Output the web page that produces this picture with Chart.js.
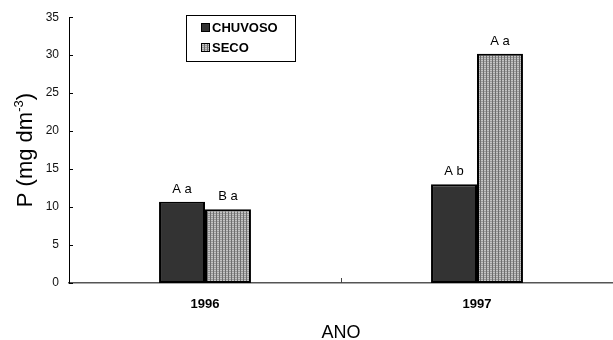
<!DOCTYPE html>
<html>
<head>
<meta charset="utf-8">
<script src="https://cdn.jsdelivr.net/npm/chart.js@4"></script>
<style>
  html, body { margin: 0; padding: 0; background: #fff; }
  #wrap { width: 613px; height: 340px; position: relative; }
</style>
</head>
<body>
<div id="wrap"><canvas id="chart"></canvas></div>
<script>
const categories = ["1996", "1997"];
const chuvoso = [10.7, 13.0];
const seco = [9.7, 30.2];
const chuvosoLabels = ["A a", "A b"];
const secoLabels = ["B a", "A a"];
const seriesNames = ["CHUVOSO", "SECO"];
const yMin = 0, yMax = 35, yStep = 5;

const FONT = "Arial, 'Liberation Sans', sans-serif";

// grey woven fill for the SECO bars
function makePattern() {
  const c = document.createElement("canvas");
  c.width = 3; c.height = 2;
  const g = c.getContext("2d");
  g.fillStyle = "#6e6e6e";
  g.fillRect(0, 0, 3, 2);
  g.fillStyle = "#c4c4c4";
  g.fillRect(1, 0, 2, 1);
  g.fillStyle = "#9a9a9a";
  g.fillRect(1, 1, 2, 1);
  return g.createPattern(c, "repeat");
}
const secoFill = makePattern();

const extras = {
  id: "extras",
  afterDraw(chart) {
    const { ctx, chartArea, scales } = chart;
    const x = scales.x, y = scales.y;
    ctx.save();

    // tick marks pointing inward
    ctx.strokeStyle = "#000";
    ctx.lineWidth = 1;
    for (let v = yMin; v <= yMax; v += yStep) {
      const py = Math.round(y.getPixelForValue(v)) + 0.5;
      ctx.beginPath();
      ctx.moveTo(chartArea.left, py);
      ctx.lineTo(chartArea.left + 4, py);
      ctx.stroke();
    }
    ctx.strokeStyle = "#444";
    const half = (x.getPixelForValue(1) - x.getPixelForValue(0)) / 2;
    for (let i = 0; i < categories.length - 1; i++) {
      const px = Math.round(x.getPixelForValue(i) + half) + 0.5;
      ctx.beginPath();
      ctx.moveTo(px, chartArea.bottom);
      ctx.lineTo(px, chartArea.bottom - 5);
      ctx.stroke();
    }

    // letters over the bars
    ctx.fillStyle = "#000";
    ctx.font = "13px " + FONT;
    ctx.textAlign = "center";
    ctx.textBaseline = "alphabetic";
    const sets = [chuvosoLabels, secoLabels];
    sets.forEach((labels, di) => {
      chart.getDatasetMeta(di).data.forEach((bar, i) => {
        ctx.fillText(labels[i], bar.x, bar.y - 9);
      });
    });

    // y axis title with superscript
    ctx.save();
    ctx.translate(32, (chartArea.top + chartArea.bottom) / 2);
    ctx.rotate(-Math.PI / 2);
    ctx.textAlign = "left";
    ctx.font = "22px " + FONT;
    const a = "P (mg dm", b = "-3", c = ")";
    const wa = ctx.measureText(a).width;
    const wc = ctx.measureText(c).width;
    ctx.font = "13px " + FONT;
    const wb = ctx.measureText(b).width;
    let sx = -(wa + wb + wc) / 2;
    ctx.font = "22px " + FONT;
    ctx.fillText(a, sx, 0);
    ctx.font = "13px " + FONT;
    ctx.fillText(b, sx + wa, -9);
    ctx.font = "22px " + FONT;
    ctx.fillText(c, sx + wa + wb, 0);
    ctx.restore();

    // x axis title
    ctx.font = "18px " + FONT;
    ctx.textAlign = "center";
    ctx.fillText("ANO", (chartArea.left + chartArea.right) / 2, 338);

    // legend box
    const lx = 186, ly = 15, lw = 109, lh = 46;
    ctx.fillStyle = "#fff";
    ctx.fillRect(lx, ly, lw, lh);
    ctx.strokeStyle = "#000";
    ctx.lineWidth = 1;
    ctx.strokeRect(lx + 0.5, ly + 0.5, lw, lh);
    const fills = ["#333", secoFill];
    ctx.font = "bold 13px " + FONT;
    ctx.textAlign = "left";
    ctx.textBaseline = "middle";
    seriesNames.forEach((name, i) => {
      const cy = ly + 12.5 + i * 20;
      ctx.fillStyle = fills[i];
      ctx.fillRect(lx + 15, cy - 4.5, 9, 9);
      ctx.strokeStyle = "#000";
      ctx.strokeRect(lx + 15.5, cy - 4, 8, 8);
      ctx.fillStyle = "#000";
      ctx.fillText(name, lx + 26, cy + 0.5);
    });

    ctx.restore();
  },
};

new Chart(document.getElementById("chart"), {
  type: "bar",
  data: {
    labels: categories,
    datasets: [
      { label: seriesNames[0], data: chuvoso, backgroundColor: "#333333", borderColor: "#000", borderWidth: 2, borderSkipped: false },
      { label: seriesNames[1], data: seco, backgroundColor: secoFill, borderColor: "#000", borderWidth: 2, borderSkipped: false },
    ],
  },
  options: {
    responsive: true,
    maintainAspectRatio: false,
    animation: false,
    datasets: { bar: { categoryPercentage: 0.338, barPercentage: 1.0 } },
    layout: { padding: { left: 0, top: 17, right: 0, bottom: 0 } },
    plugins: { legend: { display: false }, tooltip: { enabled: false } },
    scales: {
      x: {
        grid: { display: false, drawTicks: false },
        border: { display: true, color: "#555", width: 1.5 },
        ticks: { color: "#000", font: { family: FONT, size: 13, weight: "bold" }, padding: 14 },
        afterFit(scale) { scale.height = 57; },
      },
      y: {
        min: yMin,
        max: yMax,
        grid: { display: false, drawTicks: false },
        border: { display: true, color: "#000", width: 1 },
        ticks: { stepSize: yStep, color: "#111", font: { family: FONT, size: 12 }, padding: 10 },
        afterFit(scale) { scale.width = 69; },
      },
    },
  },
  plugins: [extras],
});
</script>
</body>
</html>
